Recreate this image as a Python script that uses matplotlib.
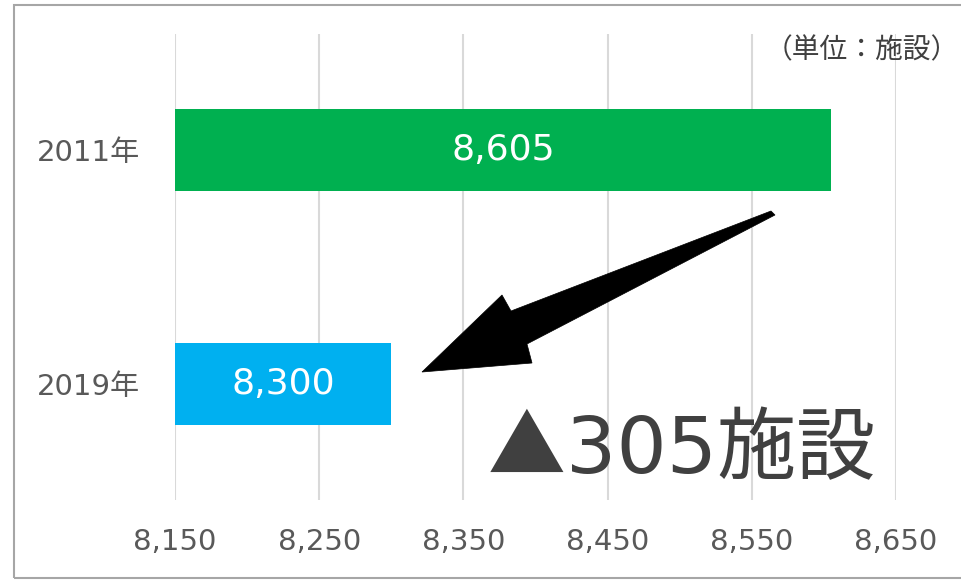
import matplotlib.pyplot as plt
import matplotlib.patches as patches

plt.rcParams['font.family'] = ['DejaVu Sans', 'Noto Sans CJK JP']

years = ['2011年', '2019年']
counts = [8605, 8300]
bar_colors = ['#00B050', '#00B0F0']
x_ticks = [8150, 8250, 8350, 8450, 8550, 8650]
unit_label = '（単位：施設）'

W, H = 961, 580
fig = plt.figure(figsize=(W / 100, H / 100), dpi=100)
ax = fig.add_axes([175 / W, 1 - 500 / H, (896 - 175) / W, (500 - 34) / H])

pos = list(range(len(years)))
ax.barh(pos, counts, height=0.35, color=bar_colors, zorder=2)
ax.set_xlim(x_ticks[0], x_ticks[-1])
ax.set_ylim(len(years) - 0.504, -0.496)

ax.set_xticks(x_ticks)
ax.set_xticklabels([f'{t:,}' for t in x_ticks])
ax.set_yticks(pos)
ax.set_yticklabels(years)
ax.tick_params(axis='x', length=0, pad=20, labelsize=21, labelcolor='#595959')
ax.tick_params(axis='y', length=0, pad=25, labelsize=21, labelcolor='#595959')
ax.grid(axis='x', color='#D9D9D9', linewidth=1.5, zorder=0)
ax.set_axisbelow(True)
for s in ax.spines.values():
    s.set_visible(False)

# value labels inside the bars
for p, v in zip(pos, counts):
    ax.text((x_ticks[0] + v) / 2, p, f'{v:,}', ha='center', va='center',
            color='white', fontsize=26, zorder=3)

# unit label
fig.text(959 / W, 1 - 50 / H, unit_label, ha='right', va='center',
         fontsize=20, color='#404040')

# decrease annotation: full-width triangle from the CJK font, then the number
diff = counts[0] - counts[1]
fig.text(488 / W, 1 - 473 / H, '▲', ha='left', va='baseline', fontsize=56,
         color='#404040', family='Noto Sans CJK JP')
fig.text(566 / W, 1 - 473 / H, f'{diff}施設', ha='left', va='baseline',
         fontsize=57, color='#404040')

# tapered arrow from 2011 bar down to 2019 bar (pixel coords, y from top)
arrow_px = [(771, 211), (775, 215), (527, 344), (532, 363), (422, 372),
            (502, 295), (511, 311)]
fig.patches.append(patches.Polygon(
    [(x / W, 1 - y / H) for x, y in arrow_px],
    closed=True, facecolor='black', edgecolor='black', linewidth=0.5,
    transform=fig.transFigure, zorder=5))

# grey frame round the chart area
fig.patches.append(patches.Rectangle(
    (13.5 / W, 1 - 577.5 / H), 1.2, (577.5 - 4.5) / H,
    fill=False, edgecolor='#A6A6A6', linewidth=1.5,
    transform=fig.transFigure, zorder=0))

fig.savefig('out.png', dpi=100)
